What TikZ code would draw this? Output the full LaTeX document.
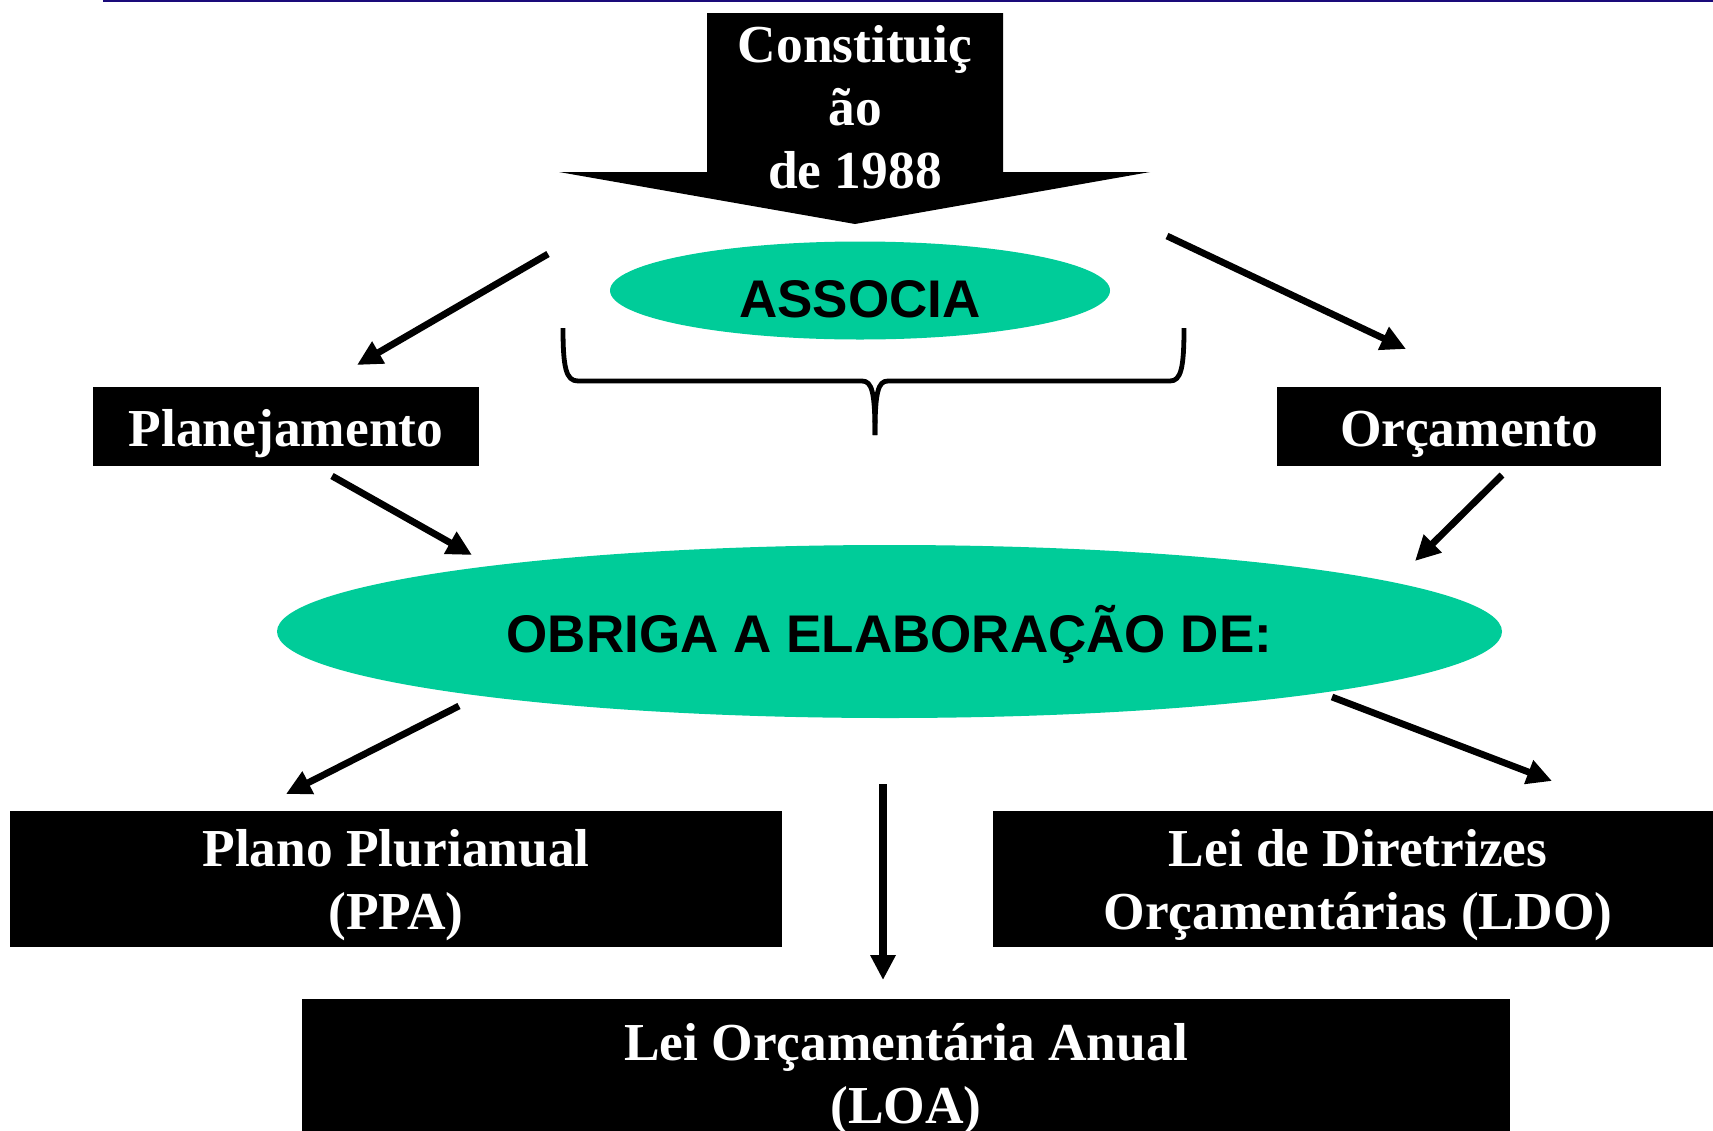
\documentclass[tikz,border=0pt]{standalone}
\usepackage{fontspec}
\setmainfont{Liberation Serif}
\setsansfont{Liberation Sans}
\usetikzlibrary{arrows.meta,shapes.geometric}
\definecolor{my green}{HTML}{00CC99}
\definecolor{my navy}{HTML}{1A0A7A}
\tikzset{
  boxtext/.style={text=white, inner sep=0pt, align=center,
    font=\fontsize{26.7}{31.5}\selectfont\bfseries},
  box/.style={boxtext, fill=black},
  oval/.style={ellipse, fill=my green, inner sep=0pt, text depth=0pt,
    font=\fontsize{26.5}{30}\selectfont\sffamily\bfseries},
  arrow/.style={line width=3.4pt, -{Triangle[length=12.5pt,width=12pt]}},
  brace/.style={line width=2.4pt},
}

\begin{document}
\begin{tikzpicture}[x=0.5pt, y=-0.5pt]
  \useasboundingbox (0,0) rectangle (1713,1130);
  \draw [my navy, line width=1pt] (103,1) -- (1713,1);

  % big arrow on top
  \fill (707,13) -- (1003,13) -- (1003,172) -- (1150,172) -- (855,224)
    -- (559,172) -- (707,172) -- cycle;
  \node [boxtext] (const) at (855,107) {Constituiç\\ão\\de 1988};

  \node [oval, minimum width=250pt, minimum height=49pt, text height=26.5pt]
    (assoc) at (860,290.5) {ASSOCIA};
  \draw [brace] (563,328) .. controls (563,368) and (566,381) .. (578,381)
    -- (862,381) .. controls (872,381) and (875,392) .. (875,435);
  \draw [brace] (1184,328) .. controls (1184,368) and (1181,381) .. (1170,381)
    -- (888,381) .. controls (878,381) and (875,392) .. (875,435);

  \node [box, minimum width=193pt, minimum height=39.5pt, text height=19.5pt, text depth=0pt]
    (plan) at (286,426.5) {Planejamento};
  \node [box, minimum width=192pt, minimum height=39.5pt, text height=19.5pt, text depth=0pt]
    (orc) at (1469,426.5) {Orçamento};

  \node [oval, minimum width=612.5pt, minimum height=86.5pt, text height=21.2pt]
    (obriga) at (889.5,631.5) {OBRIGA A ELABORAÇÃO DE:};

  \node [box, minimum width=386pt, minimum height=68pt, text height=50pt, text depth=0pt]
    (ppa) at (396,879) {Plano Plurianual\\(PPA)};
  \node [box, minimum width=365pt, minimum height=68pt, text height=50pt, text depth=0pt]
    (ldo) at (1358,879) {Lei de Diretrizes\\Orçamentárias (LDO)};
  \node [box, anchor=north, minimum width=604pt, text height=62pt, text depth=20pt]
    (loa) at (906,999) {Lei Orçamentária Anual\\(LOA)};

  % free ends of the arrows
  \coordinate (const w) at (548,254);
  \coordinate (const e) at (1167,236);
  \coordinate (plan in) at (357,365);
  \coordinate (orc in) at (1406,349);
  \coordinate (plan out) at (332,476);
  \coordinate (orc out) at (1502,475);
  \coordinate (obriga w) at (472,555);
  \coordinate (obriga e) at (1415,561);
  \coordinate (obriga sw) at (459,706);
  \coordinate (obriga se) at (1332,697);
  \coordinate (obriga s) at (883,784);
  \coordinate (ppa in) at (286,794);
  \coordinate (ldo in) at (1552,781);
  \coordinate (loa in) at (883,980);

  \draw [arrow] (const w) -- (plan in);
  \draw [arrow] (const e) -- (orc in);
  \draw [arrow] (plan out) -- (obriga w);
  \draw [arrow] (orc out) -- (obriga e);
  \draw [arrow] (obriga sw) -- (ppa in);
  \draw [arrow] (obriga se) -- (ldo in);
  \draw [arrow, line width=4pt] (obriga s) -- (loa in);
\end{tikzpicture}
\end{document}
